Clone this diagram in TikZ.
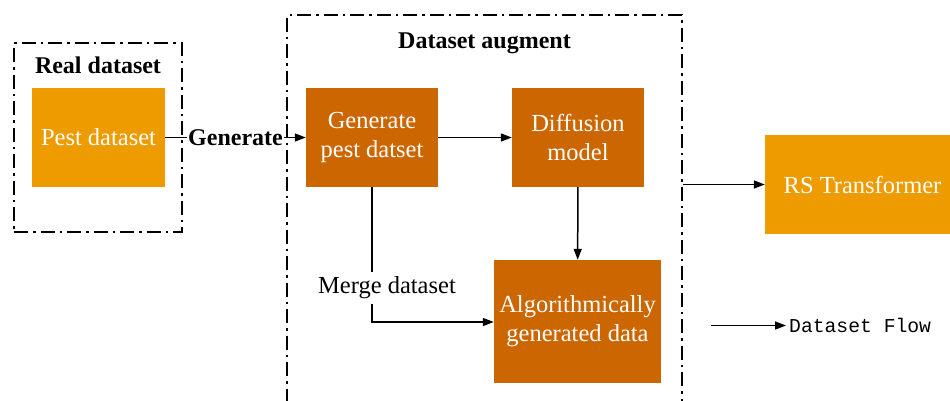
\documentclass[tikz,border=0pt]{standalone}
\usepackage{fontspec}
\setmainfont{Liberation Serif}
\setmonofont{Liberation Mono}
\usetikzlibrary{arrows.meta}
\definecolor{lightor}{RGB}{238,155,0}
\definecolor{darkor}{RGB}{204,102,0}
\tikzset{
  px/.style={x=1pt,y=-1pt},
  dashbox/.style={draw=black,line width=1.8pt,dash pattern=on 14pt off 5pt on 2.5pt off 5pt,inner sep=0pt},
  blk/.style={fill=#1,text=white,inner sep=0pt,align=center,font=\fontsize{24.5}{29}\selectfont},
  flow/.style={draw=black,line width=1.5pt,-{Triangle[length=11pt,width=8pt]}},
  lbl/.style={font=\fontsize{24.5}{29}\selectfont},
  ttl/.style={font=\fontsize{24}{29}\selectfont\bfseries}
}
\begin{document}
\begin{tikzpicture}[px]
\useasboundingbox (0,0) rectangle (950,400);
\clip (0,0) rectangle (950,400);
% containers
\node[dashbox,minimum width=168pt,minimum height=189pt] (real) at (98,137.5) {};
\node[ttl] (realt) at (98,65) {Real dataset};
\node[dashbox,minimum width=395pt,minimum height=400pt] (aug) at (484.5,215) {};
\node[ttl] (augt) at (484.5,43) {Dataset augment};
% blocks
\node[blk=lightor,minimum width=133pt,minimum height=99pt] (pest) at (98.5,137.5) {Pest dataset};
\node[blk=darkor,minimum width=132pt,minimum height=99pt] (gp) at (372,137.5) {Generate\\pest datset};
\node[blk=darkor,minimum width=132pt,minimum height=99pt] (diff) at (578,137.5) {Diffusion\\model};
\node[blk=darkor,minimum width=167pt,minimum height=123pt] (algo) at (577.5,321.5) {Algorithmically\\generated data};
\node[blk=lightor,minimum width=195pt,minimum height=99pt] (rs) at (862.5,184.5) {RS Transformer};
% connectors
\draw[flow] (pest) -- node[fill=white,inner sep=1pt,font=\fontsize{24}{29}\selectfont\bfseries] (gen) {Generate} (gp);
\draw[flow] (gp) -- (diff);
\draw[flow] (diff) -- (algo);
\coordinate (mc) at (372,322);
\draw[flow] (gp.south) -- (mc) -- (mc -| algo.west);
\node[lbl,fill=white,inner xsep=2pt,inner ysep=5pt] (merge) at (387,288) {Merge dataset};
\draw[flow] (aug.east |- rs.west) -- (rs.west);
% legend
\coordinate (lg) at (711,325.5);
\node[anchor=west,inner sep=3pt,font=\ttfamily\fontsize{19.7}{24}\selectfont] (lgt) at (786,325.5) {Dataset Flow};
\draw[flow] (lg) -- (lgt.west);
\end{tikzpicture}
\end{document}
